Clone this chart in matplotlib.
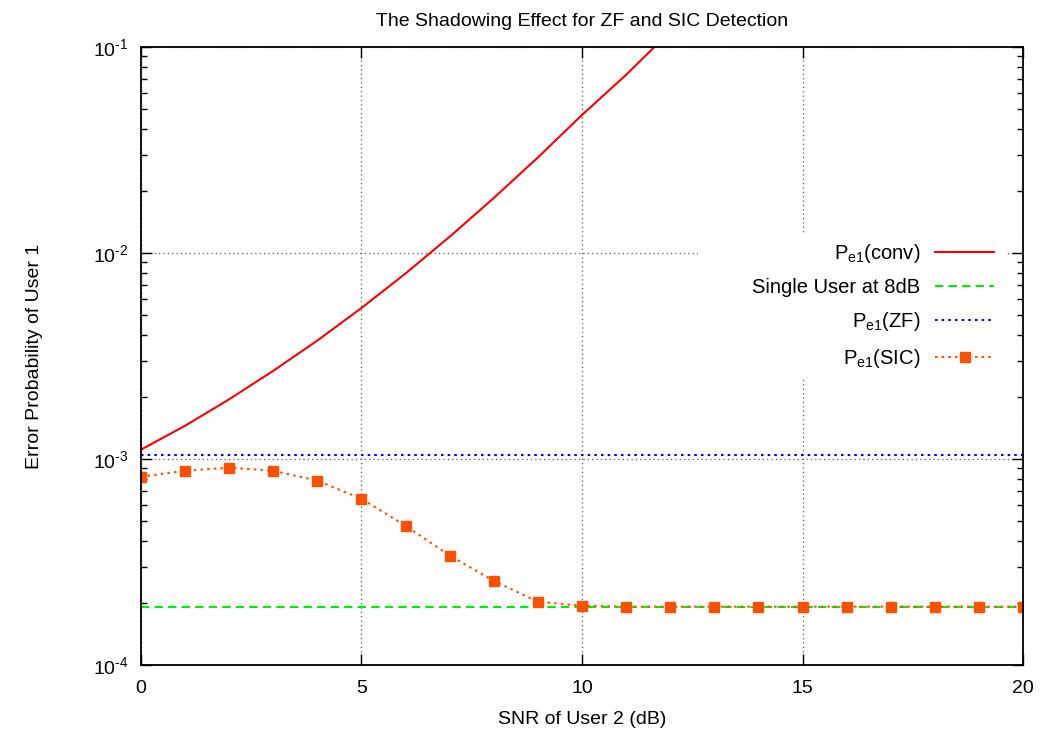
import numpy as np
import matplotlib
matplotlib.use("Agg")
import matplotlib.pyplot as plt
from matplotlib.patches import Rectangle
from matplotlib.ticker import LogLocator, FixedFormatter, NullFormatter

plt.rcParams['font.family'] = ['Liberation Sans', 'DejaVu Sans']
plt.rcParams['mathtext.fontset'] = 'custom'
plt.rcParams['mathtext.rm'] = 'Liberation Sans'
plt.rcParams['mathtext.it'] = 'Liberation Sans:italic'
plt.rcParams['mathtext.bf'] = 'Liberation Sans:bold'

# data
snr_conv = [0, 1, 2, 3, 4, 5, 6, 7, 8, 9, 10, 11, 12]
pe_conv = [1.11e-3, 1.45e-3, 1.95e-3, 2.68e-3, 3.76e-3, 5.41e-3, 7.96e-3,
           1.20e-2, 1.85e-2, 2.91e-2, 4.68e-2, 7.33e-2, 1.19e-1]

snr_sic = list(range(0, 21))
pe_sic = [8.2e-4, 8.77e-4, 9.08e-4, 8.77e-4, 7.85e-4, 6.41e-4, 4.74e-4,
          3.40e-4, 2.56e-4, 2.03e-4, 1.94e-4, 1.92e-4, 1.92e-4, 1.92e-4,
          1.92e-4, 1.92e-4, 1.92e-4, 1.92e-4, 1.92e-4, 1.92e-4, 1.92e-4]

snr_flat = [0, 20]
pe_single = [1.92e-4, 1.92e-4]
pe_zf = [1.05e-3, 1.05e-3]

y_ticks = [1e-4, 1e-3, 1e-2, 1e-1]
y_labels = [r'$10^{\text{-4}}$', r'$10^{\text{-3}}$', r'$10^{\text{-2}}$', r'$10^{\text{-1}}$']

fig = plt.figure(figsize=(10.42, 7.29), dpi=100)
ax = fig.add_axes([0.1353, 0.0878, 0.8465, 0.8477])

ax.plot(snr_conv, pe_conv, color='#ff0000', lw=1.5, label=r'P$_{\rm e1}$(conv)')
ax.plot(snr_flat, pe_single, color='#00ee00', lw=1.5, ls=(0, (4, 2.5)),
        label='Single User at 8dB')
ax.plot(snr_flat, pe_zf, color='#0000ff', lw=1.5, ls=(0, (1.2, 2)),
        label=r'P$_{\rm e1}$(ZF)')
ax.plot(snr_sic, pe_sic, color='#ff5000', lw=1.5, ls=(0, (1.2, 2)),
        marker='s', ms=7, label=r'P$_{\rm e1}$(SIC)')

ax.set_yscale('log')
ax.set_xlim(0, 20)
ax.set_ylim(1e-4, 1e-1)
ax.set_xticks([0, 5, 10, 15, 20])
ax.set_yticks(y_ticks)
ax.yaxis.set_major_formatter(FixedFormatter(y_labels))
ax.yaxis.set_minor_locator(LogLocator(base=10, subs=np.arange(2, 10), numticks=10))
ax.yaxis.set_minor_formatter(NullFormatter())
ax.tick_params(which='both', direction='in', top=True, right=True, labelsize=14, pad=9)
ax.tick_params(axis='x', pad=11)
ax.tick_params(which='major', length=8, width=1)
ax.tick_params(which='minor', length=4, width=1)
for s in ax.spines.values():
    s.set_linewidth(1.3)

ax.grid(True, which='major', color='#555555', ls=(0, (1, 2.5)), lw=0.9)
ax.set_axisbelow(True)

# white key area, like gnuplot, hides the grid behind the legend
ax.add_patch(Rectangle((0.632, 0.469), 0.35, 0.227, transform=ax.transAxes,
                       facecolor='white', edgecolor='none', zorder=1))

ax.set_title('The Shadowing Effect for ZF and SIC Detection', fontsize=14, pad=15)
ax.set_xlabel('SNR of User 2 (dB)', fontsize=14, labelpad=10)
ax.set_ylabel('Error Probability of User 1', fontsize=14, labelpad=36)

leg = ax.legend(loc='upper right', bbox_to_anchor=(0.976, 0.698), borderaxespad=0,
                markerfirst=False, fontsize=14.5, frameon=True, fancybox=False,
                handlelength=2.9, handletextpad=0.75, labelspacing=0.66,
                borderpad=0.4)
leg.get_frame().set_edgecolor('none')
leg.get_frame().set_facecolor('white')
leg.get_frame().set_alpha(1)

fig.savefig('out.png', dpi=100)
